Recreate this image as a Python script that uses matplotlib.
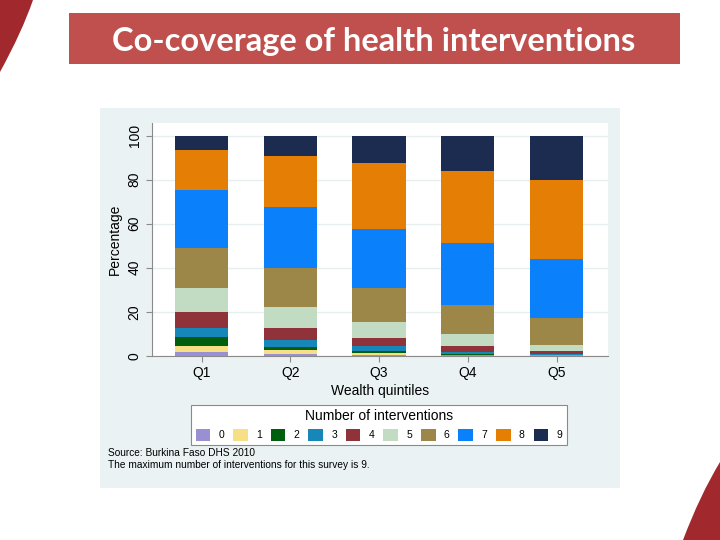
import numpy as np
import matplotlib.pyplot as plt
from matplotlib.patches import Rectangle, PathPatch
from matplotlib.path import Path

plt.rcParams['font.family'] = ['Liberation Sans', 'DejaVu Sans']

quintiles = ['Q1', 'Q2', 'Q3', 'Q4', 'Q5']
n_interventions = ['0', '1', '2', '3', '4', '5', '6', '7', '8', '9']

# percentage of women per number of interventions (rows) by quintile (cols)
shares = [
    [1.8, 0.8, 0.4, 0.2, 0.1],      # 0
    [2.6, 1.8, 0.8, 0.2, 0.1],      # 1
    [3.9, 1.3, 0.9, 0.4, 0.2],      # 2
    [4.2, 3.2, 2.4, 1.0, 0.4],      # 3
    [7.3, 5.6, 3.4, 2.6, 1.3],      # 4
    [11.1, 9.4, 7.6, 5.5, 2.7],     # 5
    [18.0, 17.7, 15.3, 13.3, 12.5], # 6
    [26.4, 27.9, 26.6, 27.9, 26.6], # 7
    [18.2, 23.2, 30.3, 32.8, 35.9], # 8
    [6.5, 9.1, 12.3, 16.1, 20.2],   # 9
]

colors = ['#9890d2', '#f7df86', '#005f0e', '#1786b8', '#8f3239',
          '#c2dcc4', '#9c8748', '#0a80fa', '#e47e05', '#1c2b50']

fig = plt.figure(figsize=(7.2, 5.4), dpi=100)
fig.patch.set_facecolor('white')


def px(x, y):
    # pixel position (from top-left) -> figure fraction
    return (x / 720, 1 - y / 540)


# slide decoration: curved red corners
tl = Path([px(0, 0), px(33, 0), px(22, 32), px(0, 72), px(0, 0)],
          [Path.MOVETO, Path.LINETO, Path.CURVE3, Path.CURVE3, Path.CLOSEPOLY])
br = Path([px(720, 540), px(720, 462), px(700, 495), px(683, 540), px(720, 540)],
          [Path.MOVETO, Path.LINETO, Path.CURVE3, Path.CURVE3, Path.CLOSEPOLY])
for p in (tl, br):
    fig.patches.append(PathPatch(p, transform=fig.transFigure, facecolor='#a1292e',
                                 edgecolor='none', zorder=0))

# title banner
fig.patches.append(Rectangle(px(69, 64), 611 / 720, 51 / 540,
                             transform=fig.transFigure, facecolor='#c0504d',
                             edgecolor='none', zorder=1))
fig.text(374 / 720, 1 - 42 / 540, 'Co-coverage of health interventions', color='white',
         fontsize=23.5, fontweight='bold', family='Lato', ha='center', va='center')

# stata graph region
fig.patches.append(Rectangle(px(100, 488), 520 / 720, 380 / 540,
                             transform=fig.transFigure, facecolor='#eaf2f3',
                             edgecolor='none', zorder=1))

ax = fig.add_axes([152 / 720, 1 - 355.7 / 540, 456 / 720, 232.7 / 540])
ax.set_facecolor('white')
ax.set_zorder(2)

x = np.arange(len(quintiles))
bottom = np.zeros(len(quintiles))
handles = []
for i, vals in enumerate(shares):
    b = ax.bar(x, vals, bottom=bottom, width=0.6, color=colors[i], linewidth=0, zorder=3)
    handles.append(b)
    bottom += np.array(vals)

ax.set_xlim(-0.56, 4.58)
ax.set_ylim(0, 105.8)
ax.set_yticks([0, 20, 40, 60, 80, 100])
ax.set_yticklabels(['0', '20', '40', '60', '80', '100'], rotation=90, va='center')
ax.set_xticks(x)
ax.set_xticklabels(quintiles)
ax.yaxis.grid(True, color='#e6eef0', linewidth=1, zorder=0)
ax.set_axisbelow(True)
for s in ['top', 'right']:
    ax.spines[s].set_visible(False)
for s in ['left', 'bottom']:
    ax.spines[s].set_color('#8a8a8a')
    ax.spines[s].set_linewidth(0.8)
ax.tick_params(colors='#8a8a8a', labelcolor='black', labelsize=10, length=4)
ax.set_ylabel('Percentage', fontsize=10, labelpad=4)
ax.set_xlabel('Wealth quintiles', fontsize=10, labelpad=3)

leg = fig.legend(handles, n_interventions, ncol=10, loc='upper center',
                 bbox_to_anchor=(379 / 720, 1 - 400 / 540), title='Number of interventions',
                 fontsize=7.5, title_fontsize=10, frameon=True, fancybox=False,
                 edgecolor='#8a8a8a', framealpha=1, handlelength=1.4, handleheight=1.4,
                 handletextpad=0.8, columnspacing=0.85, borderpad=0.4)
leg.get_frame().set_linewidth(0.8)
leg.set_zorder(3)

fig.text(108 / 720, 1 - 453 / 540, 'Source: Burkina Faso DHS 2010', fontsize=7.3, va='center')
fig.text(108 / 720, 1 - 465 / 540, 'The maximum number of interventions for this survey is 9.',
         fontsize=7.3, va='center')

fig.savefig('out.png', dpi=100)
